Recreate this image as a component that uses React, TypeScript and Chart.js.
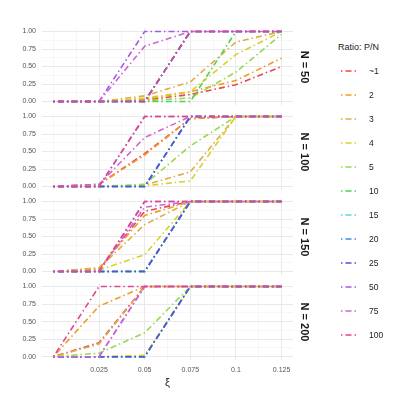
import React, { useEffect, useRef } from "react";
import { Chart, registerables } from "chart.js";
Chart.register(...registerables);

// ---------- data ----------
const xValues = [0, 0.025, 0.05, 0.075, 0.1, 0.125];
const ratioLabels = ["~1", "2", "3", "4", "5", "10", "15", "20", "25", "50", "75", "100"];
const ratioColors = [
  "#E5484D", "#F39B2A", "#E0AD45", "#D6D22A", "#98D94E", "#52D152",
  "#5ED8D0", "#3D8FEA", "#5B4FD8", "#A45BE3", "#D064D6", "#E0468F",
];
const panelLabels = ["N = 50", "N = 100", "N = 150", "N = 200"];
const xTickValues = [0.025, 0.05, 0.075, 0.1, 0.125];
const xTickLabels = ["0.025", "0.05", "0.075", "0.1", "0.125"];
const yTickValues = [0, 0.25, 0.5, 0.75, 1];
const yTickLabels = ["0.00", "0.25", "0.50", "0.75", "1.00"];
const xGridValues = [0, 0.0125, 0.025, 0.0375, 0.05, 0.0625, 0.075, 0.0875, 0.1, 0.1125, 0.125];
const yGridValues = [0, 0.125, 0.25, 0.375, 0.5, 0.625, 0.75, 0.875, 1];

const n50 = [
  [0, 0, 0.02, 0.1, 0.24, 0.5],
  [0, 0, 0.03, 0.14, 0.3, 0.62],
  [0, 0, 0.08, 0.28, 0.85, 1],
  [0, 0, 0.05, 0.14, 0.67, 1],
  [0, 0, 0.01, 0.05, 0.42, 0.96],
  [0, 0, 0, 0, 1, 1],
  [0, 0, 0, 1, 1, 1],
  [0, 0, 0, 1, 1, 1],
  [0, 0, 0, 1, 1, 1],
  [0, 0, 1, 1, 1, 1],
  [0, 0, 0.79, 1, 1, 1],
  [0, 0, 0, 1, 1, 1],
];
const n100 = [
  [0, 0.03, 0.47, 0.97, 1, 1],
  [0, 0.03, 0.45, 0.97, 1, 1],
  [0, 0, 0.02, 0.21, 1, 1],
  [0, 0, 0.01, 0.08, 1, 1],
  [0, 0, 0.03, 0.58, 1, 1],
  [0, 0, 0, 1, 1, 1],
  [0, 0, 0, 1, 1, 1],
  [0, 0, 0, 1, 1, 1],
  [0, 0, 0, 1, 1, 1],
  [0, 0, 1, 1, 1, 1],
  [0, 0.03, 0.7, 1, 1, 1],
  [0, 0, 1, 1, 1, 1],
];
const n150 = [
  [0, 0.03, 0.86, 1, 1, 1],
  [0, 0.05, 0.8, 1, 1, 1],
  [0, 0.05, 0.67, 1, 1, 1],
  [0, 0.02, 0.24, 1, 1, 1],
  [0, 0, 0.01, 1, 1, 1],
  [0, 0, 0, 1, 1, 1],
  [0, 0, 0, 1, 1, 1],
  [0, 0, 0, 1, 1, 1],
  [0, 0, 0, 1, 1, 1],
  [0, 0, 1, 1, 1, 1],
  [0, 0, 0.92, 1, 1, 1],
  [0, 0, 1, 1, 1, 1],
];
const n200 = [
  [0, 0.2, 1, 1, 1, 1],
  [0, 0.72, 1, 1, 1, 1],
  [0, 0.18, 1, 1, 1, 1],
  [0, 0, 0.02, 1, 1, 1],
  [0, 0.05, 0.34, 1, 1, 1],
  [0, 0, 0, 1, 1, 1],
  [0, 0, 0, 1, 1, 1],
  [0, 0, 0, 1, 1, 1],
  [0, 0, 0, 1, 1, 1],
  [0, 0, 1, 1, 1, 1],
  [0, 0, 1, 1, 1, 1],
  [0, 1, 1, 1, 1, 1],
];
const panelSeries = [n50, n100, n150, n200];

// ---------- layout ----------
const FONT = "'Liberation Sans', Arial, sans-serif";
const PANEL_TOP0 = 28.2;
const PANEL_STEP = 85;
const PANEL_H = 77;
const CANVAS_W = 300;
const PAD = 6;
const DASH = [1.5, 3, 6, 3];

const near = (a: number, b: number) => Math.abs(a - b) < 1e-9;

function Panel({ series, index, last }: { series: number[][]; index: number; last: boolean }) {
  const ref = useRef<HTMLCanvasElement>(null);
  const top = PANEL_TOP0 + PANEL_STEP * index - PAD;
  const height = last ? 399 - top : PANEL_H + 2 * PAD;
  useEffect(() => {
    const chart = new Chart(ref.current as HTMLCanvasElement, {
      type: "line",
      data: {
        datasets: series.map((vals, i) => ({
          label: ratioLabels[i],
          data: vals.map((v, j) => ({ x: xValues[j], y: v })),
          borderColor: ratioColors[i],
          backgroundColor: ratioColors[i],
          borderWidth: 1.6,
          borderDash: DASH,
          pointRadius: 0,
          tension: 0,
          fill: false,
          order: -i,
        })),
      },
      options: {
        animation: false,
        responsive: false,
        layout: { padding: { left: 0, right: CANVAS_W - 293, top: PAD, bottom: last ? 0 : PAD } },
        plugins: { legend: { display: false }, tooltip: { enabled: false } },
        scales: {
          x: {
            type: "linear",
            min: -0.00625,
            max: 0.13125,
            afterBuildTicks: (s: any) => {
              s.ticks = xGridValues.map((v) => ({ value: v }));
            },
            afterFit: (s: any) => {
              if (last) s.height = height - PAD - PANEL_H;
              else s.height = 0;
              s.paddingLeft = 0;
              s.paddingRight = 0;
            },
            ticks: {
              display: last,
              autoSkip: false,
              maxRotation: 0,
              padding: 5.6,
              color: "#555555",
              font: { family: FONT, size: 7 },
              callback: (value: any) => {
                const k = xTickValues.findIndex((t) => near(t, Number(value)));
                return k >= 0 ? xTickLabels[k] : "";
              },
            },
            grid: {
              drawTicks: false,
              color: (ctx: any) =>
                xTickValues.some((t) => near(t, ctx.tick?.value)) ? "#e6e6e6" : "#f1f1f1",
              lineWidth: (ctx: any) =>
                xTickValues.some((t) => near(t, ctx.tick?.value)) ? 0.9 : 0.6,
            },
            border: { display: false },
            title: {
              display: last,
              text: "ξ",
              color: "#1a1a1a",
              font: { family: FONT, size: 11 },
              padding: { top: 0, bottom: 9.6 },
            },
          },
          y: {
            min: -0.05,
            max: 1.05,
            afterBuildTicks: (s: any) => {
              s.ticks = yGridValues.map((v) => ({ value: v }));
            },
            afterFit: (s: any) => {
              s.width = 42;
              s.paddingTop = 0;
              s.paddingBottom = 0;
            },
            ticks: {
              autoSkip: false,
              padding: 6,
              color: "#555555",
              font: { family: FONT, size: 7 },
              callback: (value: any) => {
                const k = yTickValues.findIndex((t) => near(t, Number(value)));
                return k >= 0 ? yTickLabels[k] : "";
              },
            },
            grid: {
              drawTicks: false,
              color: (ctx: any) =>
                yTickValues.some((t) => near(t, ctx.tick?.value)) ? "#e6e6e6" : "#f1f1f1",
              lineWidth: (ctx: any) =>
                yTickValues.some((t) => near(t, ctx.tick?.value)) ? 0.9 : 0.6,
            },
            border: { display: false },
          },
        },
      } as any,
    });
    return () => chart.destroy();
  }, []);
  return (
    <canvas
      ref={ref}
      width={CANVAS_W}
      height={Math.round(height)}
      style={{ position: "absolute", left: 0, top, width: CANVAS_W, height: Math.round(height) }}
    />
  );
}

function LegendKey({ color }: { color: string }) {
  return (
    <svg width={18} height={6} style={{ position: "absolute", left: 340, top: -3 }}>
      <line x1={1} y1={3} x2={17} y2={3} stroke={color} strokeWidth={1.6} strokeDasharray="1.5 3 6 3" />
    </svg>
  );
}

export default function App() {
  return (
    <div
      style={{
        position: "absolute",
        left: 0,
        top: 0,
        width: 399,
        height: 399,
        background: "#ffffff",
        overflow: "hidden",
        fontFamily: FONT,
      }}
    >
      {panelSeries.map((s, i) => (
        <Panel key={i} series={s} index={i} last={i === panelSeries.length - 1} />
      ))}
      {panelLabels.map((lab, i) => (
        <div
          key={lab}
          style={{
            position: "absolute",
            left: 304,
            top: PANEL_TOP0 + PANEL_STEP * i + PANEL_H / 2,
            transform: "translate(-50%, -50%) rotate(90deg)",
            whiteSpace: "nowrap",
            fontWeight: "bold",
            fontSize: 11,
            color: "#1a1a1a",
            lineHeight: "11px",
          }}
        >
          {lab}
        </div>
      ))}
      <div
        style={{
          position: "absolute",
          left: 338,
          top: 47,
          transform: "translateY(-50%)",
          fontSize: 9,
          color: "#1a1a1a",
          whiteSpace: "nowrap",
          lineHeight: "10px",
        }}
      >
        Ratio: P/N
      </div>
      {ratioLabels.map((lab, i) => (
        <div key={lab} style={{ position: "absolute", left: 0, top: 70.7 + 24 * i, width: 399, height: 0 }}>
          <LegendKey color={ratioColors[i]} />
          <div
            style={{
              position: "absolute",
              left: 369,
              top: -5,
              fontSize: 8.5,
              lineHeight: "10px",
              color: "#1a1a1a",
              whiteSpace: "nowrap",
            }}
          >
            {lab}
          </div>
        </div>
      ))}
    </div>
  );
}
